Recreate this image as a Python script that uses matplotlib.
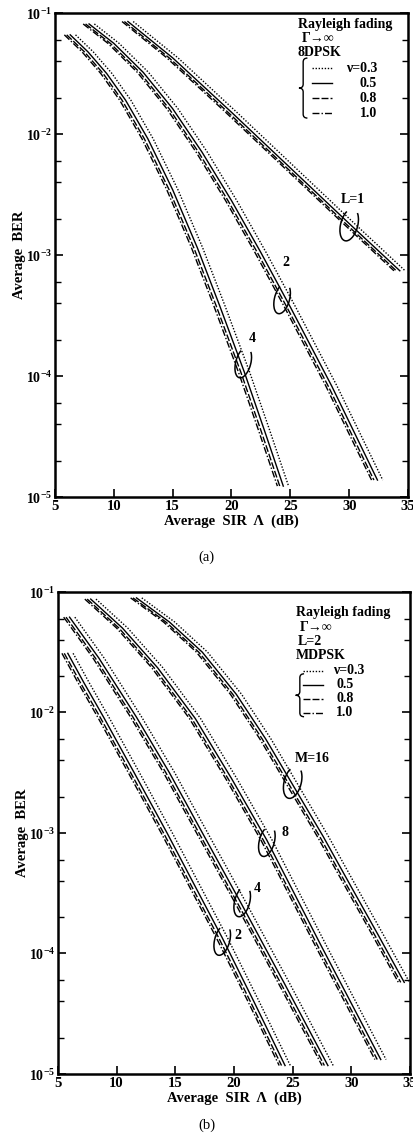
import numpy as np
import matplotlib.pyplot as plt
import matplotlib.transforms as mtransforms
from matplotlib.patches import Arc, PathPatch
from matplotlib.path import Path
from matplotlib.ticker import FixedLocator, NullFormatter

plt.rcParams['font.family'] = ['Liberation Serif', 'DejaVu Serif']
plt.rcParams['font.weight'] = 'bold'
plt.rcParams['mathtext.fontset'] = 'custom'
plt.rcParams['mathtext.rm'] = 'Liberation Serif:bold'
plt.rcParams['mathtext.bf'] = 'Liberation Serif:bold'

# values (SIR in dB, log10 of BER) for the nu=0.5 curve
nu_labels = ['\u03bd=0.3', '0.5', '0.8', '1.0']
nu_shift_db = [0.45, 0.0, -0.3, -0.5]   # horizontal offset of each nu curve vs nu=0.5

# (a) 8DPSK, L = 1, 2, 4
a_L1_sir = [11.2, 15.0, 20.0, 25.0, 30.0, 34.3]
a_L1_logber = [-1.07, -1.37, -1.82, -2.28, -2.74, -3.13]
a_L2_sir = [7.9, 10.0, 12.5, 15.0, 17.5, 20.0, 22.5, 25.0, 28.5, 32.4]
a_L2_logber = [-1.09, -1.25, -1.49, -1.79, -2.15, -2.55, -2.98, -3.43, -4.08, -4.86]
a_L4_sir = [6.3, 7.8, 9.4, 11.0, 12.9, 15.0, 17.1, 19.0, 21.1, 22.8, 24.4]
a_L4_logber = [-1.18, -1.32, -1.50, -1.72, -2.04, -2.46, -2.94, -3.42, -3.97, -4.45, -4.91]

# (b) MDPSK, L = 2, M = 2, 4, 8, 16
b_M2_sir = [5.85, 7.2, 8.9, 11.5, 14.3, 17.0, 19.0, 21.7, 24.35]
b_M2_logber = [-1.51, -1.75, -2.04, -2.5, -3.0, -3.5, -3.87, -4.4, -4.93]
b_M4_sir = [6.0, 8.5, 11.7, 14.5, 17.2, 20.7, 24.3, 28.0]
b_M4_logber = [-1.21, -1.55, -2.04, -2.5, -2.98, -3.6, -4.25, -4.93]
b_M8_sir = [7.8, 10.5, 13.5, 16.7, 19.8, 22.8, 27.5, 32.5]
b_M8_logber = [-1.06, -1.30, -1.63, -2.05, -2.55, -3.06, -3.95, -4.88]
b_M16_sir = [11.7, 14.5, 17.3, 20.2, 22.7, 25.0, 27.6, 30.0, 32.3, 34.5]
b_M16_logber = [-1.05, -1.25, -1.5, -1.85, -2.22, -2.6, -3.03, -3.45, -3.85, -4.24]

x_ticks = [5, 10, 15, 20, 25, 30, 35]
y_exps = [-1, -2, -3, -4, -5]

styles = [(0, (1, 1.2)), '-', (0, (5, 1.5)), (0, (5, 1.5, 1, 1.5))]
FS = 10

fig = plt.figure(figsize=(4.13, 11.36), dpi=100)
ax_a = fig.add_axes([0.133, 0.5625, 0.855, 0.426])
ax_b = fig.add_axes([0.140, 0.0546, 0.853, 0.4244])


def setup(ax):
    ax.set_yscale('log')
    ax.set_xlim(5, 35)
    ax.set_ylim(1e-5, 1e-1)
    ax.xaxis.set_major_locator(FixedLocator(x_ticks))
    ax.set_xticklabels([str(t) for t in x_ticks], fontsize=10.5, fontweight='bold')
    ax.yaxis.set_major_locator(FixedLocator([10.0 ** e for e in y_exps]))
    ax.set_yticklabels([r'$10^{%d}$' % e for e in y_exps], fontsize=10)
    minors = [m * 10.0 ** e for e in range(-5, -1) for m in (2, 4, 6)]
    ax.yaxis.set_minor_locator(FixedLocator(minors))
    ax.yaxis.set_minor_formatter(NullFormatter())
    ax.tick_params(axis='both', which='major', direction='in', length=6, width=1.2,
                   pad=2, right=True, top=False)
    ax.tick_params(axis='y', which='minor', direction='in', length=4, width=1.0, right=True)
    for s in ax.spines.values():
        s.set_linewidth(1.8)
    ax.set_ylabel('Average  BER', fontsize=10.5, fontweight='bold', labelpad=0)
    ax.set_xlabel('Average  SIR  \u039b  (dB)', fontsize=10.5, fontweight='bold', labelpad=1)


def draw_group(ax, sir, logber):
    sir = np.array(sir)
    ber = 10.0 ** np.array(logber)
    for shift, ls in zip(nu_shift_db, styles):
        ax.plot(sir + shift, ber, color='black', linestyle=ls, lw=1.0)


def curl(ax, x, y, w=0.15, h=0.31, ang=-15):
    tr = fig.dpi_scale_trans + mtransforms.ScaledTranslation(x, y, ax.transData)
    ax.add_patch(Arc((0, 0), w, h, angle=ang, theta1=115, theta2=430,
                     transform=tr, color='black', lw=1.1, clip_on=False))


def brace(ax, x, y0, y1, d=0.012, r=0.008):
    ym = 0.5 * (y0 + y1)
    verts = [(x + d, y1), (x, y1), (x, y1 - r),
             (x, ym + r), (x, ym), (x - d, ym),
             (x, ym), (x, ym - r),
             (x, y0 + r), (x, y0), (x + d, y0)]
    codes = [Path.MOVETO, Path.CURVE3, Path.CURVE3,
             Path.LINETO, Path.CURVE3, Path.CURVE3,
             Path.CURVE3, Path.CURVE3,
             Path.LINETO, Path.CURVE3, Path.CURVE3]
    ax.add_patch(PathPatch(Path(verts, codes), transform=ax.transAxes, fill=False,
                           lw=1.0, color='black'))


def legend_box(ax, headers, x_heads, y_heads, x_line, y_rows, x_val, ha_val, brace_pos):
    for txt, xx, yy in zip(headers, x_heads, y_heads):
        ax.text(xx, yy, txt, transform=ax.transAxes, fontsize=FS, fontweight='bold',
                ha='left', va='center')
    for i, (ls, lab) in enumerate(zip(styles, nu_labels)):
        ax.plot(x_line, [y_rows[i]] * 2, transform=ax.transAxes, color='black',
                linestyle=ls, lw=1.0)
        ax.text(x_val[i], y_rows[i], lab, transform=ax.transAxes, fontsize=FS,
                fontweight='bold', ha=ha_val, va='center')
    brace(ax, *brace_pos)


# panel (a)
setup(ax_a)
draw_group(ax_a, a_L1_sir, a_L1_logber)
draw_group(ax_a, a_L2_sir, a_L2_logber)
draw_group(ax_a, a_L4_sir, a_L4_logber)
curl(ax_a, 30.0, 10 ** -2.75, 0.17, 0.33)
curl(ax_a, 24.3, 10 ** -3.36)
curl(ax_a, 21.0, 10 ** -3.89)
ax_a.text(30.3, 10 ** -2.545, 'L=1', fontsize=FS, fontweight='bold', ha='center', va='center')
ax_a.text(24.6, 10 ** -3.06, '2', fontsize=FS, fontweight='bold', ha='center', va='center')
ax_a.text(21.8, 10 ** -3.69, '4', fontsize=FS, fontweight='bold', ha='center', va='center')
legend_box(ax_a, ['Rayleigh fading', '\u0393\u2192\u221e', '8DPSK'],
           [0.688, 0.700, 0.688], [0.977, 0.948, 0.919],
           [0.728, 0.785], [0.886, 0.855, 0.824, 0.793], [0.912] * 4, 'right',
           (0.703, 0.783, 0.907))
fig.text(0.5, 1 - 557 / 1136, '(a)', fontsize=10.5, fontweight='normal', ha='center', va='center')

# panel (b)
setup(ax_b)
draw_group(ax_b, b_M2_sir, b_M2_logber)
draw_group(ax_b, b_M4_sir, b_M4_logber)
draw_group(ax_b, b_M8_sir, b_M8_logber)
draw_group(ax_b, b_M16_sir, b_M16_logber)
curl(ax_b, 25.0, 10 ** -2.58, 0.17, 0.33)
curl(ax_b, 22.8, 10 ** -3.07)
curl(ax_b, 20.7, 10 ** -3.57)
curl(ax_b, 19.0, 10 ** -3.89)
ax_b.text(26.65, 10 ** -2.38, 'M=16', fontsize=FS, fontweight='bold', ha='center', va='center')
ax_b.text(24.35, 10 ** -3.0, '8', fontsize=FS, fontweight='bold', ha='center', va='center')
ax_b.text(22.0, 10 ** -3.46, '4', fontsize=FS, fontweight='bold', ha='center', va='center')
ax_b.text(20.3, 10 ** -3.85, '2', fontsize=FS, fontweight='bold', ha='center', va='center')
legend_box(ax_b, ['Rayleigh fading', '\u0393\u2192\u221e', 'L=2', 'MDPSK'],
           [0.676, 0.688, 0.682, 0.676], [0.958, 0.927, 0.896, 0.867],
           [0.696, 0.753], [0.836, 0.807, 0.778, 0.749], [0.781, 0.790, 0.790, 0.790],
           'left', (0.687, 0.741, 0.830))
fig.text(0.5, 1 - 1125 / 1136, '(b)', fontsize=10.5, fontweight='normal', ha='center', va='center')

fig.savefig('out.png', dpi=100)
